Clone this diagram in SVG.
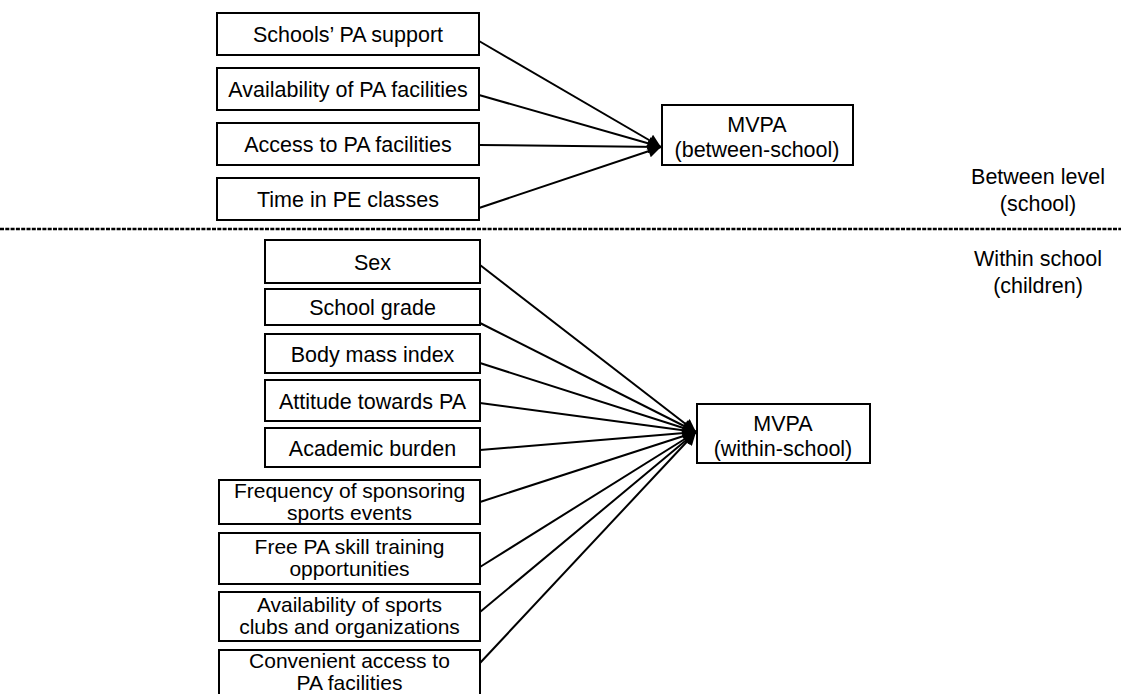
<svg xmlns="http://www.w3.org/2000/svg" width="1121" height="694" viewBox="0 0 1121 694">
<style>
.box{fill:#fff;stroke:#000;stroke-width:2}
text{font-family:"Liberation Sans",Arial,sans-serif;font-size:21.5px;fill:#000;text-anchor:middle}
.two{font-size:21px}
.edge{stroke:#000;stroke-width:2;fill:none;marker-end:url(#ah)}
</style>
<defs>
<marker id="ah" viewBox="0 0 10 10" refX="10" refY="5" markerWidth="8" markerHeight="6.5" markerUnits="strokeWidth" orient="auto">
<path d="M0,0 L10,5 L0,10 z" fill="#000"/>
</marker>
</defs>
<rect width="1121" height="694" fill="#fff"/>
<g id="nodes-between">
<g id="n1"><rect class="box" x="217" y="13" width="262" height="42"/><text x="348" y="42">Schools’ PA support</text></g>
<g id="n2"><rect class="box" x="217" y="68" width="262" height="42"/><text x="348" y="97">Availability of PA facilities</text></g>
<g id="n3"><rect class="box" x="217" y="123" width="262" height="42"/><text x="348" y="152">Access to PA facilities</text></g>
<g id="n4"><rect class="box" x="217" y="178" width="262" height="42"/><text x="348" y="207">Time in PE classes</text></g>
<g id="mvpa-between"><rect class="box" x="662" y="105" width="191" height="60"/><text x="757" y="132">MVPA</text><text x="757" y="157">(between-school)</text></g>
</g>
<g id="level-labels">
<text x="1038" y="184">Between level</text>
<text x="1038" y="211">(school)</text>
<text x="1038" y="266">Within school</text>
<text x="1038" y="293">(children)</text>
</g>
<line x1="0" y1="229" x2="1121" y2="229" stroke="#000" stroke-width="2.4" stroke-dasharray="4 1.3"/>
<g id="nodes-within">
<g id="w1"><rect class="box" x="265" y="240" width="215" height="43"/><text x="372.5" y="270">Sex</text></g>
<g id="w2"><rect class="box" x="265" y="289" width="215" height="36"/><text x="372.5" y="315">School grade</text></g>
<g id="w3"><rect class="box" x="265" y="334" width="215" height="39"/><text x="372.5" y="362">Body mass index</text></g>
<g id="w4"><rect class="box" x="265" y="380" width="215" height="41"/><text x="372.5" y="409">Attitude towards PA</text></g>
<g id="w5"><rect class="box" x="265" y="428" width="215" height="39"/><text x="372.5" y="456">Academic burden</text></g>
<g id="w6"><rect class="box" x="219" y="480" width="261" height="44"/><text class="two" x="349.5" y="498">Frequency of sponsoring</text><text class="two" x="349.5" y="520">sports events</text></g>
<g id="w7"><rect class="box" x="219" y="533" width="261" height="51"/><text class="two" x="349.5" y="554">Free PA skill training</text><text class="two" x="349.5" y="576">opportunities</text></g>
<g id="w8"><rect class="box" x="219" y="592" width="261" height="49"/><text class="two" x="349.5" y="612">Availability of sports</text><text class="two" x="349.5" y="634">clubs and organizations</text></g>
<g id="w9"><rect class="box" x="219" y="650" width="261" height="60"/><text class="two" x="349.5" y="668">Convenient access to</text><text class="two" x="349.5" y="690">PA facilities</text></g>
<g id="mvpa-within"><rect class="box" x="697" y="404" width="173" height="59"/><text x="783" y="431">MVPA</text><text x="783" y="456">(within-school)</text></g>
</g>
<g id="connectors">
<line class="edge" x1="479" y1="41" x2="661" y2="147"/>
<line class="edge" x1="479" y1="95" x2="661" y2="147"/>
<line class="edge" x1="479" y1="145" x2="661" y2="147"/>
<line class="edge" x1="479" y1="208" x2="661" y2="147"/>
<line class="edge" x1="480" y1="265" x2="696" y2="432"/>
<line class="edge" x1="480" y1="323" x2="696" y2="432"/>
<line class="edge" x1="480" y1="363" x2="696" y2="432"/>
<line class="edge" x1="480" y1="403" x2="696" y2="432"/>
<line class="edge" x1="480" y1="450" x2="696" y2="432"/>
<line class="edge" x1="480" y1="502" x2="696" y2="432"/>
<line class="edge" x1="480" y1="567" x2="696" y2="432"/>
<line class="edge" x1="480" y1="612" x2="696" y2="432"/>
<line class="edge" x1="480" y1="663" x2="696" y2="432"/>
</g>
</svg>
